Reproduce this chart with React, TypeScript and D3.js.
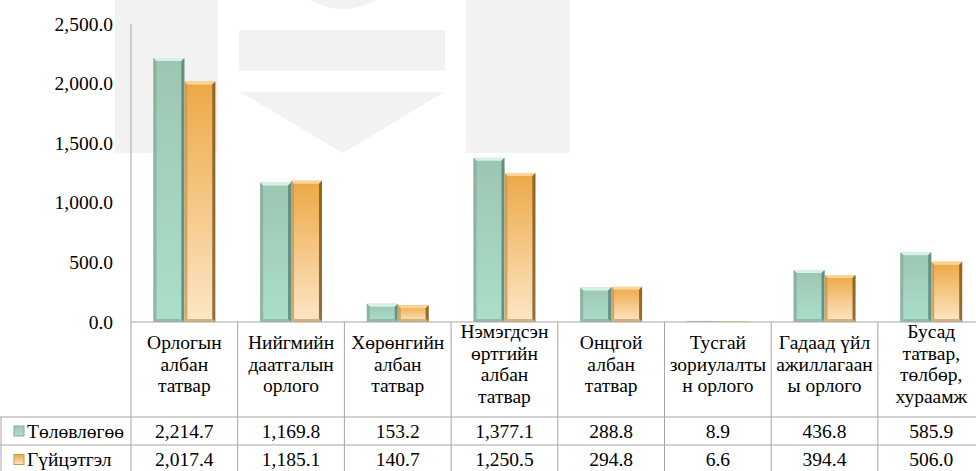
import React from "react";
import * as d3 from "d3";

const categories: string[][] = [
	["Орлогын", "албан", "татвар"],
	["Нийгмийн", "даатгалын", "орлого"],
	["Хөрөнгийн", "албан", "татвар"],
	["Нэмэгдсэн", "өртгийн", "албан", "татвар"],
	["Онцгой", "албан", "татвар"],
	["Тусгай", "зориулалты", "н орлого"],
	["Гадаад үйл", "ажиллагаан", "ы орлого"],
	["Бусад", "татвар,", "төлбөр,", "хураамж"],
];
const seriesNames = ["Төлөвлөгөө", "Гүйцэтгэл"];
const planValues = [2214.7, 1169.8, 153.2, 1377.1, 288.8, 8.9, 436.8, 585.9];
const actualValues = [2017.4, 1185.1, 140.7, 1250.5, 294.8, 6.6, 394.4, 506.0];
const yTicks = [0, 500, 1000, 1500, 2000, 2500];

const W = 976;
const H = 471;
const LINE = "#a6a6a6";
const txt: React.CSSProperties = { fontFamily: "Liberation Serif", fontSize: "19.5px" };

const palette = [
	{ top: "#9cc6b2", bottom: "#aadfca", light: "#d4f3e6", side: "#5f8272", sideL: "#86ad9b" },
	{ top: "#eda845", bottom: "#fde6c6", light: "#fbd596", side: "#7a5a2a", sideL: "#c79a5a" },
];

const Bar: React.FC<{ x: number; y: number; w: number; h: number; s: number }> = ({ x, y, w, h, s }) => {
	const c = palette[s];
	const b = Math.min(3, h / 2);
	return (
		<g>
			<rect x={x} y={y} width={w} height={h} fill={`url(#grad${s})`} />
			{h > 1 && (
				<>
					<polygon
						points={`${x},${y} ${x + w},${y} ${x + w - b},${y + b} ${x + b},${y + b}`}
						fill={c.light}
					/>
					<polygon
						points={`${x},${y} ${x + b},${y + b} ${x + b},${y + h - b} ${x},${y + h}`}
						fill={c.sideL}
						opacity={0.8}
					/>
					<polygon
						points={`${x + w},${y} ${x + w - b},${y + b} ${x + w - b},${y + h - b} ${x + w},${y + h}`}
						fill={c.side}
						opacity={0.85}
					/>
					<polygon
						points={`${x},${y + h} ${x + b},${y + h - b} ${x + w - b},${y + h - b} ${x + w},${y + h}`}
						fill={c.sideL}
						opacity={0.7}
					/>
				</>
			)}
		</g>
	);
};

export default function App() {
	const tableLeft = 131;
	const plotTop = 24;
	const zeroY = 322;
	const headerBottom = 417;
	const row1Bottom = 445;

	const idx = categories.map((_, i) => String(i));
	const x0 = d3
		.scaleBand()
		.domain(idx)
		.range([tableLeft, tableLeft + 853.6])
		.paddingInner(0.42)
		.paddingOuter(0.21);
	const x1 = d3.scaleBand().domain(["0", "1"]).range([0, x0.bandwidth()]);
	const y = d3.scaleLinear().domain([0, 2500]).range([zeroY, plotTop]);
	const fmt = d3.format(",.1f");
	const step = x0.step();
	const colLeft = (i: number) => tableLeft + i * step;
	const series = [planValues, actualValues];

	return (
		<svg
			width={W}
			height={H}
			style={{ position: "absolute", left: 0, top: 0, background: "#fff" }}
		>
			<defs>
				{palette.map((c, i) => (
					<linearGradient key={i} id={`grad${i}`} x1="0" y1="0" x2="0" y2="1">
						<stop offset="0" stopColor={c.top} />
						<stop offset="1" stopColor={c.bottom} />
					</linearGradient>
				))}
			</defs>

			{/* watermark */}
			<g fill="#f2f2f2">
				<rect x={115} y={0} width={103} height={153} />
				<rect x={466} y={0} width={104} height={153} />
				<circle cx={343} cy={-56} r={65} />
				<rect x={239} y={30} width={206} height={41} />
				<polygon points="240,92 444,92 343,153" />
			</g>

			{/* y axis */}
			<line x1={tableLeft} x2={tableLeft} y1={plotTop} y2={H} stroke={LINE} />
			{yTicks.map((t) => (
				<text
					key={t}
					x={113}
					y={y(t)}
					textAnchor="end"
					dominantBaseline="central"
					fill="#000"
					style={txt}
				>
					{fmt(t)}
				</text>
			))}

			{/* bars */}
			{series.map((vals, s) =>
				vals.map((v, i) => (
					<Bar
						key={`${s}-${i}`}
						x={x0(String(i))! + x1(String(s))!}
						y={y(v)}
						w={x1.bandwidth()}
						h={zeroY - y(v)}
						s={s}
					/>
				))
			)}

			{/* table grid */}
			<line x1={tableLeft} x2={W} y1={zeroY} y2={zeroY} stroke={LINE} />
			<line x1={0} x2={W} y1={headerBottom} y2={headerBottom} stroke={LINE} />
			<line x1={0} x2={W} y1={row1Bottom} y2={row1Bottom} stroke={LINE} />
			<line x1={1} x2={1} y1={headerBottom} y2={H} stroke={LINE} />
			{idx.map((_, i) => (
				<line
					key={i}
					x1={colLeft(i + 1)}
					x2={colLeft(i + 1)}
					y1={zeroY}
					y2={H}
					stroke={LINE}
				/>
			))}

			{/* category headers */}
			{categories.map((lines, i) => {
				const cx = colLeft(i) + step / 2;
				return (
					<text key={i} textAnchor="middle" fill="#000" style={txt}>
						{lines.map((l, j) => (
							<tspan
								key={j}
								x={cx}
								y={364 + (j - (lines.length - 1) / 2) * 21.5}
								dominantBaseline="central"
							>
								{l}
							</tspan>
						))}
					</text>
				);
			})}

			{/* legend + values */}
			{series.map((vals, s) => {
				const cy = s === 0 ? (headerBottom + row1Bottom) / 2 : (row1Bottom + H + 3) / 2;
				return (
					<g key={s}>
						<rect x={14} y={cy - 5} width={10} height={10} fill={`url(#grad${s})`} stroke={palette[s].sideL} strokeWidth={1} />
						<text x={27} y={cy} dominantBaseline="central" fill="#000" style={txt}>
							{seriesNames[s]}
						</text>
						{vals.map((v, i) => (
							<text
								key={i}
								x={colLeft(i) + step / 2}
								y={cy}
								textAnchor="middle"
								dominantBaseline="central"
								fill="#000"
								style={txt}
							>
								{fmt(v)}
							</text>
						))}
					</g>
				);
			})}
		</svg>
	);
}
